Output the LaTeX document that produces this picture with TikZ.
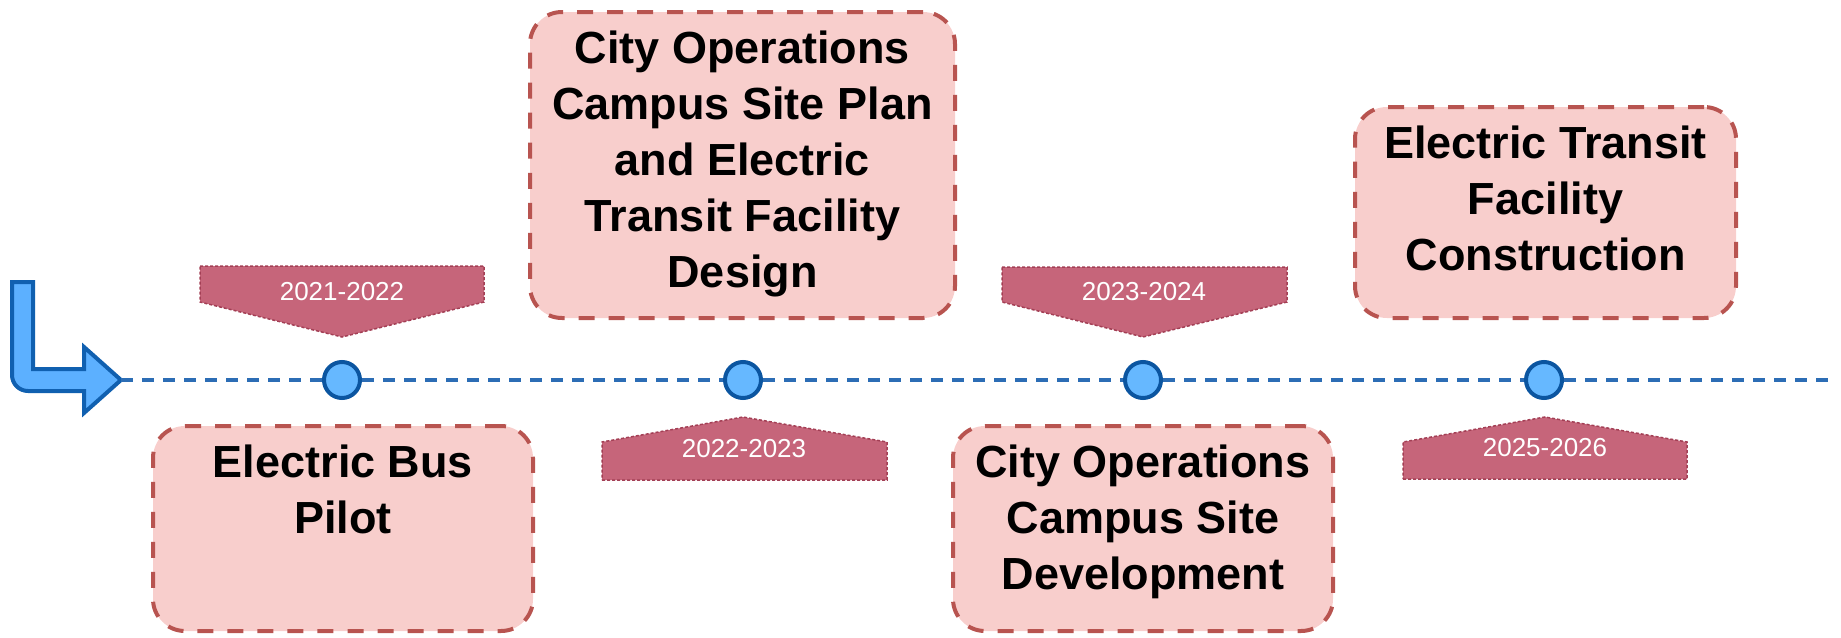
\documentclass[tikz,border=0pt]{standalone}
\usepackage{fontspec}
\setmainfont{Liberation Sans}
\definecolor{boxfill}{HTML}{F8CECC}
\definecolor{boxline}{HTML}{B85450}
\definecolor{tagfill}{HTML}{C6657A}
\definecolor{tagline}{HTML}{A33F55}
\definecolor{dotfill}{HTML}{66B8FF}
\definecolor{dotline}{HTML}{0B55A0}
\definecolor{tline}{HTML}{2C6DB5}
\definecolor{arrfill}{HTML}{5CB0FF}
\definecolor{arrline}{HTML}{1060B0}
\begin{document}
\begin{tikzpicture}[x=1pt,y=-1pt,
  phasebox/.style={draw=boxline, fill=boxfill, line width=4pt, dash pattern=on 16pt off 14pt, rounded corners=32pt, inner sep=0pt},
  phasetext/.style={font=\bfseries\fontsize{45}{56}\selectfont, align=center, anchor=north, inner sep=0pt, yshift=-21pt},
  tagshape/.style={draw=tagline, fill=tagfill, line width=1.5pt, dash pattern=on 3pt off 2pt},
  tagtext/.style={text=white, font=\fontsize{26}{30}\selectfont, inner sep=0pt},
  milestone/.style={circle, draw=dotline, fill=dotfill, line width=4pt, minimum size=36pt, inner sep=0pt},
  timeline/.style={draw=tline, line width=4pt, dash pattern=on 12pt off 9pt}]
\useasboundingbox (0,0) rectangle (1841,637);

% boxes
\node[phasebox, minimum width=425pt, minimum height=306pt] (t1) at (742.5,165) {};
\node[phasebox, minimum width=381pt, minimum height=211pt] (t2) at (1545.5,212.5) {};
\node[phasebox, minimum width=380pt, minimum height=205pt] (b1) at (343,528.5) {};
\node[phasebox, minimum width=380pt, minimum height=205pt] (b2) at (1143,528.5) {};
\node[phasetext] (t1txt) at (t1.north) {City Operations\\Campus Site Plan\\and Electric\\Transit Facility\\Design};
\node[phasetext] (t2txt) at (t2.north) {Electric Transit\\Facility\\Construction};
\node[phasetext] (b1txt) at (b1.north) {Electric Bus\\Pilot};
\node[phasetext] (b2txt) at (b2.north) {City Operations\\Campus Site\\Development};

% tags
\path[tagshape] (200,266) -- (484,266) -- (484,302) -- (342,337) -- (200,302) -- cycle;
\path[tagshape] (1002,267) -- (1287,267) -- (1287,302) -- (1143,337) -- (1002,302) -- cycle;
\path[tagshape] (602,480) -- (887,480) -- (887,442) -- (743,417) -- (602,442) -- cycle;
\path[tagshape] (1403,479) -- (1687,479) -- (1687,442) -- (1545,417) -- (1403,442) -- cycle;
\node[tagtext] (y1) at (342,292) {2021-2022};
\node[tagtext] (y2) at (1144,292) {2023-2024};
\node[tagtext] (y3) at (744,449) {2022-2023};
\node[tagtext] (y4) at (1545,448) {2025-2026};

% start arrow
\draw[draw=arrline, fill=arrfill, line width=4pt, line join=miter]
  (12,282) -- (33,282) -- (33,369) -- (84,369) -- (84,347) -- (121,380) -- (84,413) -- (84,391)
  -- (28,391) arc[start angle=90, end angle=180, radius=16] -- cycle;
\coordinate (atip) at (121,380);
\coordinate (lend) at (1830,380);

% milestones and timeline
\node[milestone] (m1) at (342,380) {};
\node[milestone] (m2) at (743,380) {};
\node[milestone] (m3) at (1143,380) {};
\node[milestone] (m4) at (1544,380) {};
\draw[timeline] (atip) -- (m1) -- (m2) -- (m3) -- (m4) -- (lend);
\end{tikzpicture}
\end{document}
